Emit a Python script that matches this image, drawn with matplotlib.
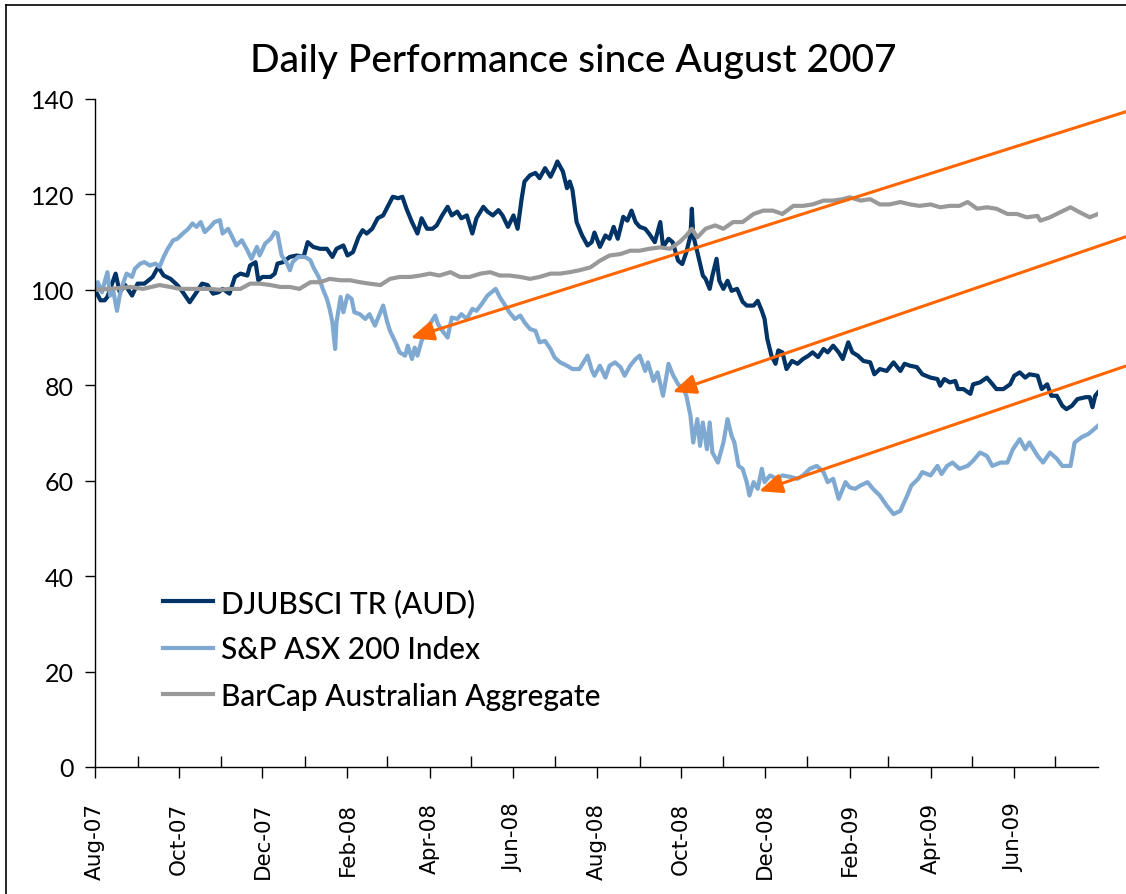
import matplotlib
matplotlib.use("Agg")
import matplotlib.pyplot as plt
import matplotlib.dates as mdates
from matplotlib.lines import Line2D
import numpy as np
import pandas as pd

start = pd.Timestamp("2007-08-01")

# DJUBSCI TR (AUD): days since 1 Aug 2007, index level
dj_day = [0, 4, 7, 9, 15, 18, 22, 27, 31, 36, 42, 46, 50, 55, 60, 64, 69, 74, 78, 82,
          86, 90, 93, 98, 102, 106, 111, 113, 117, 119, 122, 128, 131, 133, 137, 142, 147, 152, 155, 159,
          164, 169, 173, 176, 181, 184, 188, 192, 195, 198, 202, 206, 210, 214, 217, 221, 224, 227, 231, 235,
          238, 242, 246, 249, 253, 257, 260, 264, 267, 271, 275, 278, 283, 286, 290, 294, 297, 301, 305, 308,
          311, 313, 317, 321, 324, 328, 332, 335, 337, 341, 344, 346, 348, 351, 355, 359, 362, 364, 368, 372,
          375, 378, 381, 385, 388, 391, 394, 397, 401, 404, 408, 412, 414, 418, 421, 425, 428, 431, 434, 435,
          436, 439, 443, 445, 448, 450, 453, 455, 458, 461, 464, 468, 472, 475, 480, 483, 486, 488, 490, 493,
          496, 498, 501, 504, 508, 512, 516, 520, 523, 527, 531, 534, 538, 542, 545, 549, 552, 556, 560, 565,
          568, 572, 577, 582, 587, 590, 594, 599, 603, 609, 614, 616, 619, 623, 627, 629, 633, 638, 640, 645,
          650, 653, 657, 662, 667, 670, 674, 678, 681, 687, 690, 694, 697, 701, 705, 708, 712, 716, 722, 725,
          727, 729, 731]
dj_val = [100, 97.8, 97.8, 98.5, 103.4, 99.5, 101, 98.8, 101.3, 101.3, 102.7, 104.8, 103, 102.3, 101, 99.5, 97.4, 99.5, 101.3, 101,
          99.2, 99.5, 100.2, 99.2, 102.7, 103.4, 103, 105.1, 105.8, 102, 102.7, 102.7, 103.4, 105.5, 105.8, 106.9, 107.2, 106.9, 110, 109,
          108.6, 108.6, 106.9, 108.6, 109.3, 107.2, 107.9, 111, 112.5, 111.8, 112.8, 115, 115.6, 117.8, 119.5, 119.2, 119.5, 117, 114.2, 111.8,
          115, 112.8, 112.8, 113.5, 115.6, 117.4, 115.6, 116.4, 115, 115.6, 111.8, 115, 117.4, 116.4, 115.6, 116.7, 115.6, 113.2, 115.6, 112.8,
          119.2, 122.7, 124, 124.5, 123.4, 125.5, 123.7, 125.5, 126.9, 124.8, 121.3, 122.7, 120.9, 114.2, 111.4, 109.3, 110, 112, 109, 111.4,
          110.7, 113.2, 110.7, 115.3, 114.5, 116.6, 114.2, 113.2, 112.8, 111.7, 110, 114.2, 109, 110.7, 110, 106.1, 105.4, 107.9, 111.4, 117,
          111.4, 107.9, 103, 102.3, 100.2, 103, 106.5, 101.9, 100.2, 101.9, 99.8, 100.2, 97.5, 96.7, 96.7, 97.7, 95.6, 93.9, 89.7, 86.2,
          84.5, 87.3, 86.9, 83.4, 85.1, 84.5, 85.5, 86.2, 86.9, 85.9, 87.6, 86.9, 88.3, 86.9, 85.5, 89, 86.9, 86.2, 85.1, 84.8,
          82.3, 83.4, 83, 84.8, 83, 84.5, 84.1, 83.8, 82.3, 81.6, 81.3, 79.9, 81.3, 80.6, 80.9, 79.2, 79.2, 78.2, 80.2, 80.6,
          81.6, 80.6, 79.2, 79.2, 80.2, 82, 82.7, 81.6, 82.3, 82, 79.2, 80.2, 77.8, 77.8, 75.7, 75, 75.7, 77.1, 77.5, 77.5,
          75.4, 77.8, 78.5]

# S&P ASX 200 Index
asx_day = [0, 2, 5, 9, 11, 13, 16, 18, 20, 23, 27, 29, 33, 36, 40, 44, 47, 50, 53, 57,
           60, 64, 68, 71, 74, 77, 80, 84, 87, 91, 93, 97, 100, 103, 107, 111, 114, 118, 120, 124,
           128, 131, 133, 136, 140, 142, 144, 148, 153, 157, 159, 163, 166, 169, 171, 173, 175, 176, 179, 181,
           184, 187, 189, 193, 197, 200, 204, 208, 210, 213, 215, 219, 222, 226, 228, 231, 233, 235, 238, 242,
           244, 248, 250, 254, 257, 260, 264, 267, 271, 275, 278, 282, 286, 289, 292, 295, 299, 302, 306, 310,
           313, 317, 321, 324, 328, 332, 335, 339, 344, 348, 353, 359, 362, 364, 368, 372, 375, 379, 383, 386,
           390, 394, 397, 401, 403, 407, 410, 414, 418, 421, 425, 429, 431, 434, 436, 439, 441, 443, 446, 448,
           450, 454, 458, 461, 464, 466, 469, 472, 475, 477, 480, 483, 486, 488, 492, 497, 501, 507, 512, 516,
           521, 526, 531, 534, 538, 542, 545, 547, 550, 554, 558, 563, 567, 572, 577, 582, 587, 592, 595, 600,
           603, 609, 614, 617, 621, 625, 630, 636, 640, 645, 650, 654, 660, 665, 669, 674, 678, 681, 687, 691,
           696, 701, 705, 711, 714, 719, 724, 727, 731]
asx_val = [100.2, 101.6, 99.5, 103.7, 98.8, 100.2, 95.6, 98.8, 101, 103.4, 102.7, 104.4, 105.5, 105.8, 105.1, 105.5, 104.8, 106.9, 108.6, 110.4,
           110.7, 111.8, 112.8, 113.9, 113.2, 114.2, 112.1, 113.2, 114.2, 114.6, 111.8, 112.8, 111.1, 109.3, 110.4, 108.3, 106.5, 109, 107.2, 109.7,
           110.7, 112.1, 111.8, 107.2, 105.5, 104.1, 105.8, 106.9, 106.9, 106.2, 104.8, 102.7, 100.2, 98.1, 96, 93.2, 87.6, 93.2, 98.5, 95.3,
           98.8, 98.1, 95.3, 94.9, 93.9, 94.9, 92.5, 95.3, 96.7, 93.2, 91.4, 89, 86.9, 86.2, 88.3, 85.5, 87.9, 86.2, 89.3, 91.8,
           92.8, 94.6, 92.8, 91.1, 90, 94.2, 93.9, 94.9, 93.9, 96, 95.6, 97.1, 98.8, 99.5, 100.2, 98.5, 96.7, 95.3, 93.9, 94.6,
           93.2, 91.8, 91.4, 89, 89.3, 87.6, 85.8, 84.8, 84.1, 83.4, 83.4, 86.2, 83.2, 82, 84.1, 81.6, 84.1, 84.8, 83.8, 82,
           84.1, 85.5, 86.2, 83, 84.8, 80.9, 82.7, 77.8, 84.5, 82.3, 80.2, 79.2, 77.8, 73.6, 68, 72.9, 67.3, 72.2, 66.6, 72.2,
           65.9, 63.8, 68, 72.9, 69.4, 68, 63.1, 62.5, 59.7, 56.9, 59.7, 58.3, 62.5, 59.7, 61.1, 60.4, 61.1, 60.8, 60.4, 61.1,
           62.5, 63.1, 61.8, 59.7, 60.4, 56.2, 58.3, 59.7, 58.6, 58.3, 59, 59.7, 58.3, 56.9, 54.8, 53, 53.7, 56.9, 59, 60.4,
           61.8, 61.1, 63.1, 61.4, 63.1, 63.8, 62.5, 63.1, 64.2, 65.9, 65.2, 63.1, 63.8, 63.8, 66.6, 68.7, 66.6, 68, 65.2, 63.8,
           65.9, 64.6, 63.1, 63.1, 68, 69.1, 69.8, 70.5, 71.5]

# BarCap Australian Aggregate
bc_day = [0, 11, 26, 35, 47, 55, 62, 69, 77, 84, 91, 98, 106, 113, 120, 128, 135, 142, 149, 157,
          164, 171, 179, 186, 193, 200, 208, 215, 222, 230, 237, 244, 251, 259, 266, 273, 281, 288, 295, 302,
          310, 317, 324, 332, 339, 346, 353, 361, 368, 375, 383, 390, 397, 404, 412, 419, 426, 431, 435, 439,
          445, 452, 458, 465, 472, 480, 487, 494, 501, 509, 516, 523, 531, 538, 545, 550, 558, 565, 572, 579,
          587, 594, 601, 609, 616, 623, 630, 636, 643, 650, 657, 665, 672, 679, 687, 689, 696, 703, 711, 718,
          725, 731]
bc_val = [100, 100.2, 100.6, 100.2, 101, 100.6, 100.2, 100.2, 100.2, 100.2, 100, 100.2, 100.2, 101.3, 101.3, 101, 100.6, 100.6, 100.2, 101.6,
          101.6, 102.3, 102, 102, 101.6, 101.3, 101, 102.3, 102.7, 102.7, 103, 103.4, 103, 103.7, 102.7, 102.7, 103.4, 103.7, 103, 103,
          102.7, 102.3, 102.7, 103.4, 103.4, 103.7, 104.1, 104.7, 106.1, 107.2, 107.5, 108.2, 108.2, 108.6, 108.9, 108.6, 110, 111.4, 112.8, 111,
          112.8, 113.5, 112.8, 114.2, 114.2, 115.9, 116.6, 116.6, 115.9, 117.6, 117.6, 117.9, 118.7, 118.7, 119, 119.4, 118.7, 119, 117.9, 117.9,
          118.4, 117.9, 117.6, 117.9, 117.3, 117.6, 117.6, 118.4, 117, 117.3, 117, 115.9, 115.9, 115.2, 115.5, 114.5, 115.2, 116.2, 117.3, 116.2,
          115.2, 115.9]

# arrows: head (date, level) and tail (date, level)
arrow_head_day = [230, 421, 484]
arrow_head_val = [89.9, 78.6, 57.8]
arrow_tail_day = [751, 751, 751]
arrow_tail_val = [137.3, 111.1, 84.0]

labels = ["DJUBSCI TR (AUD)", "S&P ASX 200 Index", "BarCap Australian Aggregate"]
colors = ["#003366", "#7FA9D1", "#999999"]


def to_dates(days):
    return start + pd.to_timedelta(np.array(days), unit="D")


fig = plt.figure(figsize=(11.26, 8.95), dpi=100)
ax = fig.add_axes([0.0844, 0.1419, 0.8907, 0.7464])

series = [(dj_day, dj_val), (asx_day, asx_val), (bc_day, bc_val)]
for (d, v), lab, c in zip(series, labels, colors):
    ax.plot(to_dates(d), v, color=c, lw=3, label=lab, solid_joinstyle="round")

for hd, hv, td, tv in zip(arrow_head_day, arrow_head_val, arrow_tail_day, arrow_tail_val):
    ax.annotate("", xy=(to_dates([hd])[0], hv), xytext=(to_dates([td])[0], tv),
                arrowprops=dict(arrowstyle="-|>,head_length=0.7,head_width=0.3",
                                color="#FF6600", lw=2.2, mutation_scale=20,
                                shrinkA=0, shrinkB=0),
                annotation_clip=False)

ax.set_xlim(pd.Timestamp("2007-08-01"), pd.Timestamp("2009-08-01"))
ax.set_ylim(0, 140)
ax.set_yticks(np.arange(0, 141, 20))

major = pd.date_range("2007-08-01", "2009-06-01", freq="2MS")
minor = pd.date_range("2007-09-01", "2009-08-01", freq="2MS")
ax.set_xticks(major)
ax.set_xticks(minor, minor=True)
ax.xaxis.set_major_formatter(mdates.DateFormatter("%b-%y"))
ax.tick_params(axis="x", which="major", direction="out", length=8, width=1,
               labelrotation=90, labelsize=15.5, pad=17)
ax.tick_params(axis="x", which="minor", direction="in", length=8, width=1)
ax.tick_params(axis="y", direction="out", length=7, width=1, labelsize=18, pad=8)
for t in ax.get_xticklabels():
    t.set_family("DejaVu Sans")
for t in ax.get_yticklabels():
    t.set_family("Lato")

for s in ["top", "right"]:
    ax.spines[s].set_visible(False)
for s in ["left", "bottom"]:
    ax.spines[s].set_linewidth(1)

fig.text(0.509, 0.931, "Daily Performance since August 2007", ha="center", va="center",
         fontsize=28, family="Lato", weight="medium")

leg = ax.legend(loc="center left", bbox_to_anchor=(0.068, 0.1766), frameon=False,
                prop={"family": "Lato", "size": 21.5, "weight": "medium"},
                handlelength=1.65, handletextpad=0.3,
                labelspacing=0.62, borderpad=0, borderaxespad=0)
for h in leg.get_lines():
    h.set_linewidth(3)

# thin frame around the chart area (top and left edges visible)
fig.add_artist(Line2D([0.005, 1.0], [0.993, 0.993], color="black", lw=1.2))
fig.add_artist(Line2D([0.005, 0.005], [0.0, 0.993], color="black", lw=1.2))

fig.savefig("out.png", dpi=100)
